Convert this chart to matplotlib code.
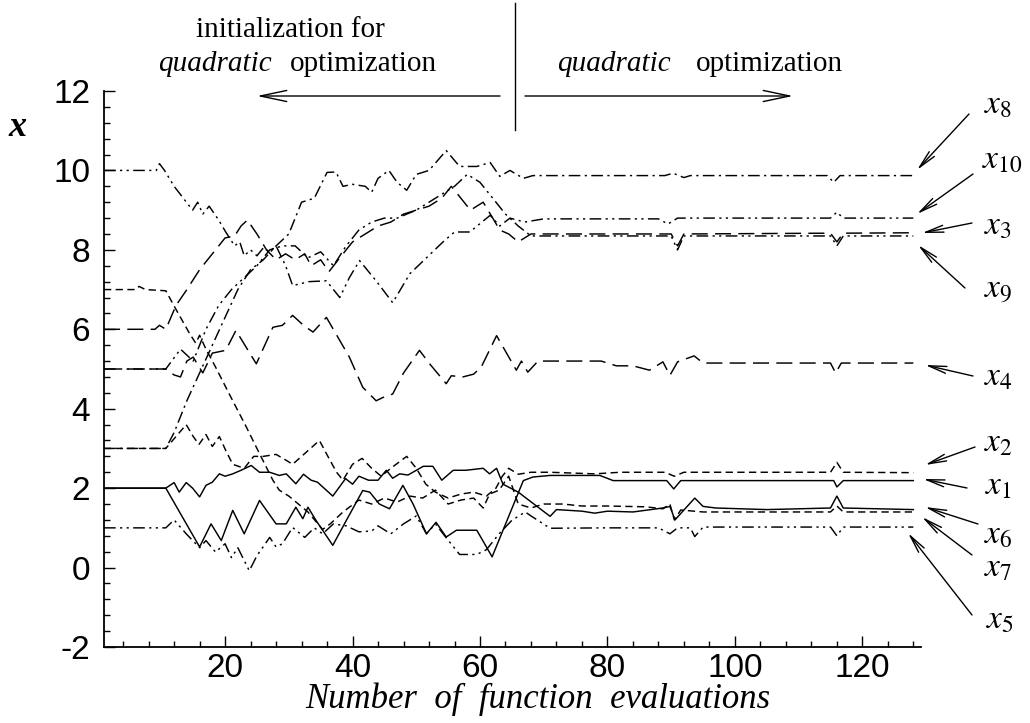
import matplotlib
matplotlib.use("Agg")
import matplotlib.pyplot as plt
from matplotlib.lines import Line2D
from matplotlib.patches import FancyArrowPatch
from matplotlib.ticker import MultipleLocator

# ---------------- data (vertices) ----------------
x1_x = [1, 10.7, 16.0, 17.8, 19.4, 21.2, 23.0, 25.4, 28.0, 29.6, 31.1, 32.2, 33.0, 34.3, 36.9, 39.0, 41.6, 42.7, 44.2, 45.8, 47.9, 49.5, 51.6, 53.1, 54.7, 56.3, 59.5, 61.9, 66.8, 68.3, 71, 78.8, 80.9, 89.3, 90.4, 91.5, 115.5, 116, 117, 128]
x1_y = [2, 2, 0.52, 1.1, 0.68, 1.44, 0.85, 1.69, 1.1, 1.1, 1.52, 1.23, 1.52, 1.18, 0.56, 1.18, 1.94, 1.9, 1.6, 1.48, 2.07, 1.6, 0.85, 1.14, 0.77, 0.94, 0.94, 0.27, 2.19, 2.28, 2.32, 2.32, 2.19, 2.19, 1.98, 2.19, 2.19, 2.03, 2.19, 2.19]

x6_x = [1, 10.7, 12, 12.8, 13.9, 14.9, 16, 17, 18, 19.1, 20, 21.2, 22.5, 24.1, 25.4, 27, 28.5, 29.6, 31.1, 32.3, 33.5, 34.5, 36.9, 38.9, 40, 41, 42.5, 44, 45.3, 46.3, 47.4, 48.7, 51.1, 52.6, 54, 55.8, 57.8, 60.5, 61.5, 62.6, 63.6, 66, 71, 72, 76, 78, 80, 84, 88.7, 89.8, 90.6, 92, 93.7, 95, 97, 105, 115, 116, 117, 128]
x6_y = [2, 2, 2.14, 1.9, 2.14, 2.0, 1.78, 2.07, 2.15, 2.36, 2.3, 2.36, 2.45, 2.57, 2.4, 2.4, 2.32, 2.36, 2.11, 2.35, 2.2, 2.15, 1.8, 2.24, 2.1, 2.3, 2.2, 2.2, 2.45, 2.25, 2.36, 2.33, 2.55, 2.55, 2.2, 2.45, 2.45, 2.5, 2.36, 2.5, 2.1, 1.9, 1.29, 1.46, 1.42, 1.37, 1.42, 1.4, 1.5, 1.54, 1.2, 1.45, 1.75, 1.54, 1.5, 1.46, 1.5, 1.8, 1.5, 1.46]

x2_x = [1, 10.7, 12.3, 13.9, 15, 15.9, 17, 18, 19.1, 20.1, 21.2, 23, 24.5, 26, 28, 29.6, 30.6, 32, 34.8, 36.3, 37.5, 38.5, 40, 41.5, 43, 44.5, 46, 48.5, 50, 51.5, 53, 55, 57, 59, 61, 62.5, 63.5, 64.5, 66, 68, 71, 78, 82, 89, 90.5, 92, 115, 116, 117, 128]
x2_y = [3, 3, 3.3, 3.6, 3.3, 3.1, 3.35, 3.05, 3.3, 2.95, 2.6, 2.5, 2.8, 2.8, 2.85, 2.7, 2.6, 2.8, 3.2, 2.75, 2.4, 2.2, 2.6, 2.75, 2.5, 2.3, 2.5, 2.8, 2.5, 2.1, 1.9, 1.75, 1.85, 1.9, 1.8, 2.0, 2.3, 2.5, 2.35, 2.4, 2.4, 2.36, 2.4, 2.4, 2.3, 2.4, 2.4, 2.65, 2.4, 2.39]

x7_x = [1, 6, 6.5, 7.5, 10.7, 12.3, 14.4, 15.4, 16, 17, 18.5, 21.2, 23.3, 25.4, 27.5, 28.5, 30, 31.5, 33, 35.3, 36.5, 38.5, 41, 43, 45, 47, 49, 51, 53, 55, 57, 59, 60.5, 61.5, 63, 64.5, 66, 68, 70, 73, 76, 80, 86, 88.7, 89.8, 90.5, 91.5, 95, 115, 116, 117, 128]
x7_y = [7, 7, 7.08, 7.0, 6.97, 6.5, 5.9, 5.65, 5.85, 5.5, 5.05, 4.2, 3.55, 2.87, 2.2, 1.95, 1.8, 1.6, 1.4, 0.96, 1.1, 1.4, 1.7, 1.6, 1.75, 1.65, 1.8, 1.75, 1.95, 1.6, 1.7, 1.75, 1.5, 1.85, 1.95, 2.3, 1.6, 1.5, 1.6, 1.6, 1.55, 1.55, 1.53, 1.48, 1.6, 1.2, 1.45, 1.4, 1.4, 1.55, 1.4, 1.4]

x5_x = [1, 10.7, 12, 13.9, 16, 17, 18.5, 20, 21, 22, 23.8, 25, 27, 28, 29, 30.6, 32.5, 34, 35.3, 37, 39, 41, 43, 44, 46, 48, 50, 51.6, 53, 54.7, 56.8, 58, 59.5, 61, 63, 65, 67.1, 68, 71, 80, 88, 89.8, 91, 93, 93.7, 95, 115, 116, 117, 128]
x5_y = [1, 1, 1.2, 0.85, 0.5, 0.68, 0.39, 0.6, 0.25, 0.5, -0.08, 0.3, 0.76, 0.52, 0.6, 1.01, 0.76, 1.0, 0.85, 1.1, 1.05, 0.9, 0.92, 1.05, 0.85, 1.1, 1.3, 0.85, 1.1, 0.75, 0.33, 0.33, 0.33, 0.45, 0.85, 1.19, 1.4, 1.3, 0.99, 1.0, 1.0, 0.85, 1.0, 1.0, 0.78, 1.02, 1.02, 0.8, 1.02, 1.02]

x4_x = [1, 10.7, 12, 13, 14, 15, 16.5, 18, 20.1, 21.7, 24.9, 27.5, 29, 30.6, 32.3, 33.8, 35.9, 39.5, 41.6, 43.7, 45, 46.3, 48, 50.5, 52.1, 54.7, 55.5, 57.3, 59, 60.2, 62.6, 65.7, 66.5, 67.5, 69.1, 79, 81.4, 84, 86.6, 88.7, 89.8, 91, 93.6, 95, 115, 115.8, 116.7, 128]
x4_y = [5, 5, 4.85, 4.8, 5.2, 5.3, 4.9, 5.4, 5.47, 5.97, 5.13, 6.05, 6.1, 6.35, 6.1, 5.93, 6.3, 5.3, 4.54, 4.2, 4.3, 4.37, 4.9, 5.47, 5.13, 4.63, 4.83, 4.8, 4.87, 5.05, 5.84, 4.97, 5.2, 4.92, 5.2, 5.2, 5.08, 5.08, 4.97, 5.18, 4.84, 5.18, 5.33, 5.15, 5.15, 4.9, 5.15, 5.15]

x8_x = [1, 10.7, 12, 14, 16, 18, 20, 22, 24, 26, 28, 30, 32, 34, 36, 37.4, 38.5, 40, 42, 43, 44, 45.7, 47, 48.5, 50, 52, 54.7, 56.8, 59.5, 61.6, 63.1, 64.7, 66.8, 68.3, 89, 90.3, 92, 93, 114.5, 115.5, 116.5, 128]
x8_y = [3, 3, 3.4, 4.2, 4.9, 5.6, 6.3, 7.0, 7.5, 7.75, 8.1, 8.4, 9.2, 9.3, 9.95, 9.96, 9.6, 9.65, 9.6, 9.45, 9.8, 10.0, 9.7, 9.5, 9.9, 10.0, 10.5, 10.1, 10.1, 10.2, 9.85, 10.0, 9.8, 9.87, 9.87, 9.93, 9.82, 9.87, 9.87, 9.7, 9.87, 9.87]

x10_x = [1, 9.2, 9.7, 10.5, 12, 14.9, 15.7, 16.5, 17.5, 19, 20.1, 21.5, 22.3, 23, 24, 25, 26, 27, 28, 29.5, 30.6, 33.2, 35.9, 38.0, 39.5, 41.1, 43.7, 46.3, 49.0, 51.6, 54.2, 56.0, 58.4, 61.6, 63.1, 64.7, 67, 70, 88, 89.5, 91, 92, 115, 116, 117, 128]
x10_y = [10, 10, 10.17, 10.0, 9.6, 9.0, 9.2, 8.9, 9.1, 8.75, 8.45, 8.1, 8.2, 7.85, 8.0, 7.85, 8.05, 7.95, 8.1, 7.6, 7.1, 7.2, 7.22, 6.8, 7.3, 7.73, 7.22, 6.67, 7.4, 7.8, 8.2, 8.45, 8.45, 8.87, 8.6, 8.8, 8.7, 8.78, 8.78, 8.65, 8.8, 8.8, 8.8, 8.95, 8.8, 8.8]

x3_x = [1, 9, 9.7, 10.7, 12.3, 14, 16, 18, 20, 21.5, 22.5, 23.5, 25, 26.5, 28, 29.5, 31, 32.5, 33.5, 35, 36.3, 38, 40, 42, 44, 46, 48, 50, 52, 54, 55.5, 57, 58.5, 60.5, 62, 63.1, 64.5, 66, 68, 90, 91, 92, 115, 116, 117, 128]
x3_y = [6, 6, 6.1, 6.0, 6.6, 7.0, 7.5, 7.9, 8.3, 8.35, 8.6, 8.75, 8.4, 8.0, 7.75, 7.9, 7.75, 7.9, 7.6, 7.75, 7.45, 7.8, 8.2, 8.4, 8.6, 8.7, 8.9, 9.0, 9.1, 9.3, 9.6, 9.3, 9.0, 9.2, 8.8, 8.5, 8.4, 8.2, 8.4, 8.4, 8.1, 8.4, 8.42, 8.2, 8.42, 8.43]

x9_x = [1, 10.7, 13, 15, 17, 19, 21, 23, 25, 27, 29, 31, 33, 35, 37, 39, 41, 43, 45, 47, 50, 53, 56, 58, 60, 62, 64, 66, 68, 90, 91, 92, 115, 116, 117, 128]
x9_y = [5, 5, 5.5, 5.2, 6.0, 6.6, 7.0, 7.3, 7.6, 8.0, 8.1, 8.1, 7.8, 7.95, 7.6, 8.1, 8.5, 8.7, 8.8, 8.8, 9.0, 9.3, 9.6, 9.9, 9.7, 9.3, 8.9, 8.6, 8.35, 8.35, 8.0, 8.35, 8.35, 8.1, 8.35, 8.35]

labels = ["x_8", "x_{10}", "x_3", "x_9", "x_4", "x_2", "x_1", "x_6", "x_7", "x_5"]

# ---------------- styles ----------------
SOLID = "-"
SHORT = (0, (5, 3))
LONG = (0, (11, 5))
DASHDOT = (0, (8, 3, 1.5, 3))
DASHDOTDOT = (0, (8, 3, 1.5, 3, 1.5, 3))

series = [
    (x1_x, x1_y, SOLID),
    (x6_x, x6_y, SOLID),
    (x2_x, x2_y, SHORT),
    (x7_x, x7_y, SHORT),
    (x5_x, x5_y, DASHDOTDOT),
    (x4_x, x4_y, LONG),
    (x8_x, x8_y, DASHDOT),
    (x10_x, x10_y, DASHDOTDOT),
    (x3_x, x3_y, LONG),
    (x9_x, x9_y, DASHDOTDOT),
]

plt.rcParams["font.family"] = ["Liberation Sans", "DejaVu Sans"]
W, H = 1030, 723
fig = plt.figure(figsize=(W / 100, H / 100), dpi=100)
ax = fig.add_axes([104 / W, 1 - 647 / H, (921 - 104) / W, (647 - 91) / H])

for xs, ys, ls in series:
    ax.plot(xs, ys, color="black", lw=1.05, linestyle=ls)

ax.set_xlim(1, 129.2)
ax.set_ylim(-2, 12)
ax.spines["top"].set_visible(False)
ax.spines["right"].set_visible(False)
for s in ("left", "bottom"):
    ax.spines[s].set_linewidth(1.3)
ax.xaxis.set_major_locator(MultipleLocator(20))
ax.xaxis.set_minor_locator(MultipleLocator(4))
ax.yaxis.set_major_locator(MultipleLocator(2))
ax.yaxis.set_minor_locator(MultipleLocator(0.4))
ax.tick_params(which="both", direction="in", width=1.0, labelsize=24)
ax.tick_params(which="major", length=8)
ax.tick_params(which="minor", length=4)
ax.tick_params(axis="y", pad=10)
ax.tick_params(axis="x", pad=4)
ax.set_xticks([20, 40, 60, 80, 100, 120])
ax.set_yticks([-2, 0, 2, 4, 6, 8, 10, 12])
ax.set_yticklabels(["-2", "0", "2", "4", "6", "8", "10", "12"])

serif = ["Liberation Serif", "DejaVu Serif"]
fig.text(538 / W, 1 - 699 / H, "Number  of  function  evaluations", family=serif,
         style="italic", fontsize=25, ha="center", va="center")
fig.text(18 / W, 1 - 127 / H, "x", family=serif, style="italic", weight="bold",
         fontsize=26, ha="center", va="center")

# top annotations
fig.text(290 / W, 1 - 30 / H, "initialization for", family=serif, fontsize=21,
         ha="center", va="center")
fig.text(215 / W, 1 - 64 / H, "quadratic", family=serif, style="italic", fontsize=21,
         ha="center", va="center")
fig.text(363 / W, 1 - 64 / H, "optimization", family=serif, fontsize=21,
         ha="center", va="center")
fig.text(614 / W, 1 - 64 / H, "quadratic", family=serif, style="italic", fontsize=21,
         ha="center", va="center")
fig.text(769 / W, 1 - 64 / H, "optimization", family=serif, fontsize=21,
         ha="center", va="center")
fig.add_artist(Line2D([515 / W, 515 / W], [1 - 3 / H, 1 - 130 / H], color="black", lw=1.0))
for (x0, x1) in [(500, 257), (525, 793)]:
    fig.add_artist(FancyArrowPatch(
        (x0 / W, 1 - 96 / H), (x1 / W, 1 - 96 / H), transform=fig.transFigure,
        arrowstyle="->,head_length=19,head_width=4", mutation_scale=1, lw=1.0,
        color="black", shrinkA=0, shrinkB=0))

# right-side labels with arrows (text pos and arrow start in figure pixels)
label_pos = {
    "x_8": (998, 105, 969, 114, 917, 170),
    "x_{10}": (1002, 160, 973, 174, 917, 214),
    "x_3": (998, 226, 972, 223, 922, 233),
    "x_9": (998, 291, 965, 288, 918, 245),
    "x_4": (998, 377, 973, 376, 925, 365),
    "x_2": (998, 443, 975, 447, 925, 465),
    "x_1": (998, 486, 967, 488, 923, 479),
    "x_6": (998, 535, 978, 524, 925, 507),
    "x_7": (998, 568, 972, 555, 922, 517),
    "x_5": (1000, 620, 972, 615, 908, 533),
}
for lab in labels:
    tx, ty, sx, sy, ex, ey = label_pos[lab]
    base, sub = lab.split("_")
    sub = sub.strip("{}")
    fig.text(tx / W, 1 - ty / H, r"$\mathit{" + base + r"}_{\mathit{" + sub + "}}$",
             fontsize=24, ha="center", va="center", math_fontfamily="stix")
    ax.annotate("", xy=(ex, H - ey), xycoords="figure pixels",
                xytext=(sx, H - sy), textcoords="figure pixels",
                arrowprops=dict(arrowstyle="->,head_length=1.3,head_width=0.25",
                                lw=1.0, color="black", shrinkA=0, shrinkB=0))

fig.savefig("out.png", dpi=100)
